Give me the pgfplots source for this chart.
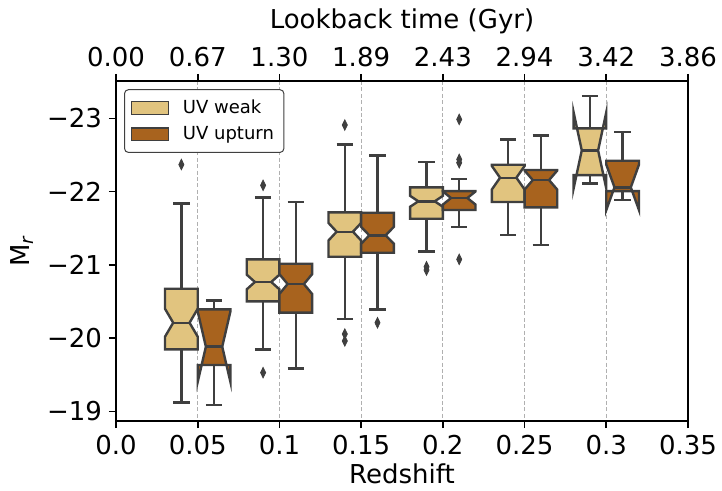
\documentclass[border=0pt]{standalone}
\usepackage{fontspec}
\setmainfont{DejaVu Sans}
\usepackage{pgfplots}
\pgfplotsset{compat=1.18}

\definecolor{weak}{RGB}{225,196,127}
\definecolor{upturn}{RGB}{168,99,30}
\definecolor{edge}{RGB}{63,63,63}
\definecolor{gridc}{RGB}{176,176,176}

\tikzset{boxline/.style={draw=edge, line width=1.2pt}}

% notched box: #1 position, #2 fill colour, #3 upper whisker (top), #4 box top,
% #5 median, #6 box bottom, #7 lower whisker, #8 notch half height
\newcommand\nbox[8]{%
  \pgfmathsetmacro\bxL{#1-0.2}\pgfmathsetmacro\bxR{#1+0.2}%
  \pgfmathsetmacro\bxcL{#1-0.1}\pgfmathsetmacro\bxcR{#1+0.1}%
  \pgfmathsetmacro\bxnA{#5-#8}\pgfmathsetmacro\bxnB{#5+#8}%
  \edef\bxtmp{%
    \noexpand\addplot[boxline,forget plot] coordinates {(#1,#3) (#1,#4)};
    \noexpand\addplot[boxline,forget plot] coordinates {(#1,#6) (#1,#7)};
    \noexpand\addplot[boxline,forget plot] coordinates {(\bxcL,#3) (\bxcR,#3)};
    \noexpand\addplot[boxline,forget plot] coordinates {(\bxcL,#7) (\bxcR,#7)};
    \noexpand\addplot[boxline,fill=#2,forget plot] coordinates {(\bxL,#4) (\bxR,#4) (\bxR,\bxnA) (\bxcR,#5) (\bxR,\bxnB) (\bxR,#6) (\bxL,#6) (\bxL,\bxnB) (\bxcL,#5) (\bxL,\bxnA) (\bxL,#4)} -- cycle;
    \noexpand\addplot[boxline,forget plot] coordinates {(\bxcL,#5) (\bxcR,#5)};
  }\bxtmp}

\begin{document}
\begin{tikzpicture}
\begin{axis}[
  at={(0,0)}, anchor=south west,
  scale only axis, width=286pt, height=170pt,
  xmin=-1, xmax=6, ymin=-23.51, ymax=-18.87, y dir=reverse,
  xtick={-1,0,1,2,3,4,5,6},
  xticklabels={0.0,0.05,0.1,0.15,0.2,0.25,0.3,0.35},
  ytick={-23,-22,-21,-20,-19},
  yticklabels={−23,−22,−21,−20,−19},
  xtick pos=left, ytick pos=left,
  tick align=outside, major tick length=3.5pt,
  tick style={black, line width=0.8pt},
  axis line style={line width=0.8pt},
  xmajorgrids, grid style={gridc, line width=0.5pt, dash pattern=on 2pt off 1.2pt},
  tick label style={font=\fontsize{13}{15}\selectfont},
  label style={font=\fontsize{13}{15}\selectfont},
  xlabel={Redshift},
  xlabel style={yshift=2.5pt},
  ylabel={M\textsubscript{\itshape r}},
  legend style={at={(rel axis cs:0.014,0.976)}, anchor=north west,
    draw=black!75, line width=0.5pt, rounded corners=2pt,
    font=\fontsize{9}{11}\selectfont, inner sep=3pt, row sep=1pt,
    /tikz/every odd column/.append style={column sep=5pt}},
  legend cell align=left,
  legend image code/.code={\draw[#1, sharp corners] (0pt,-3.2pt) rectangle (18.5pt,3.2pt);},
]
\addlegendimage{fill=weak, draw=edge, line width=0.7pt}
\addlegendentry{UV weak}
\addlegendimage{fill=upturn, draw=edge, line width=0.7pt}
\addlegendentry{UV upturn}

% z = 0.05
\nbox{-0.2}{weak}{-21.84}{-20.675}{-20.211}{-19.848}{-19.12}{0.19}
\nbox{0.2}{upturn}{-20.512}{-20.394}{-19.884}{-19.634}{-19.085}{0.48}
% z = 0.1
\nbox{0.8}{weak}{-21.92}{-21.076}{-20.767}{-20.503}{-19.848}{0.10}
\nbox{1.2}{upturn}{-21.858}{-21.016}{-20.739}{-20.348}{-19.589}{0.135}
% z = 0.15
\nbox{1.8}{weak}{-22.645}{-21.718}{-21.453}{-21.112}{-20.258}{0.12}
\nbox{2.2}{upturn}{-22.495}{-21.712}{-21.404}{-21.166}{-20.394}{0.115}
% z = 0.2
\nbox{2.8}{weak}{-22.404}{-22.059}{-21.868}{-21.63}{-21.185}{0.074}
\nbox{3.2}{upturn}{-22.172}{-22.008}{-21.913}{-21.749}{-21.521}{0.09}
% z = 0.25
\nbox{3.8}{weak}{-22.713}{-22.367}{-22.19}{-21.858}{-21.412}{0.16}
\nbox{4.2}{upturn}{-22.768}{-22.295}{-22.158}{-21.786}{-21.272}{0.13}
% z = 0.3
\nbox{4.8}{weak}{-23.308}{-22.864}{-22.563}{-22.226}{-22.113}{0.52}
\nbox{5.2}{upturn}{-22.817}{-22.422}{-22.059}{-22.008}{-21.885}{0.31}

% outliers
\addplot[only marks, mark=diamond*, mark size=2.6pt, mark options={xscale=0.65, fill=edge, draw=edge}, forget plot]
  coordinates {(-0.2,-22.37) (0.8,-22.086) (0.8,-19.53) (1.8,-22.909) (1.8,-20.057) (1.8,-19.962)
    (2.8,-20.975) (2.8,-20.93)};
\addplot[only marks, mark=diamond*, mark size=2.6pt, mark options={xscale=0.65, fill=edge, draw=edge}, forget plot]
  coordinates {(2.2,-20.211) (3.2,-22.986) (3.2,-22.44) (3.2,-22.394) (3.2,-21.076)};
\end{axis}

\begin{axis}[
  at={(0,0)}, anchor=south west,
  scale only axis, width=286pt, height=170pt,
  xmin=-1, xmax=6, ymin=0, ymax=1,
  axis x line*=top, axis y line=none,
  xtick={-1,0,1,2,3,4,5,6},
  xticklabels={0.00,0.67,1.30,1.89,2.43,2.94,3.42,3.86},
  tick align=outside, major tick length=3.5pt,
  tick style={black, line width=0.8pt},
  axis line style={line width=0.8pt},
  tick label style={font=\fontsize{13}{15}\selectfont},
  label style={font=\fontsize{13}{15}\selectfont},
  xlabel={Lookback time (Gyr)},
]
\end{axis}
\pgfresetboundingbox
\path[use as bounding box] (-58pt,-35pt) rectangle (303pt,210.5pt);
\end{tikzpicture}
\end{document}
